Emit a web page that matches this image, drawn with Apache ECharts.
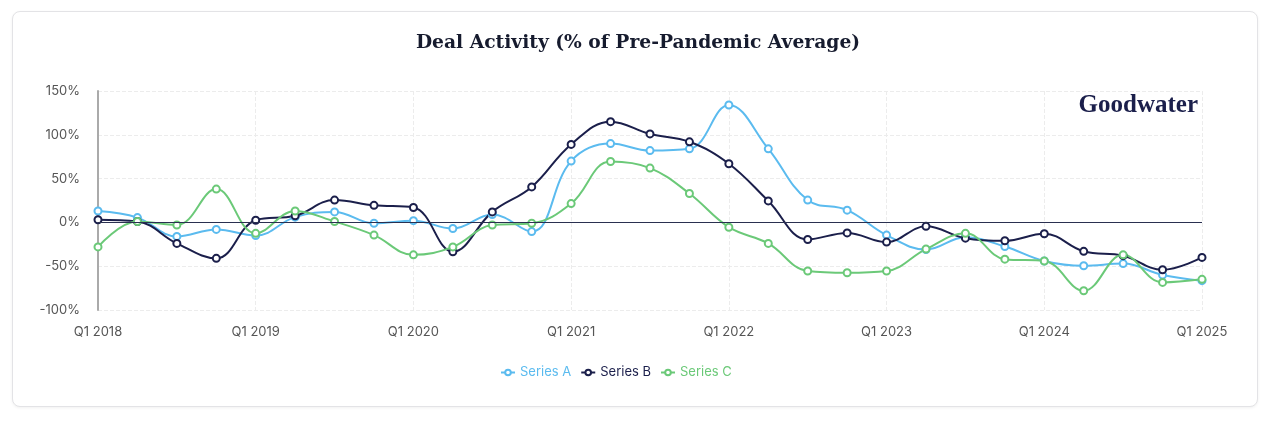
<!DOCTYPE html>
<html>
<head>
<meta charset="utf-8">
<script src="https://cdn.jsdelivr.net/npm/echarts@6/dist/echarts.min.js"></script>
<style>
html,body{margin:0;padding:0;background:#fff;}
#card{position:absolute;left:12px;top:11px;width:1244px;height:394px;border:1px solid #e3e3e6;border-radius:8px;box-shadow:0 1px 3px rgba(0,0,0,0.06);background:#fff;}
#chart{position:absolute;left:0;top:0;width:1276px;height:427px;}
</style>
</head>
<body>
<div id="card"></div>
<div id="chart"></div>
<script>
const categories = [
  'Q1 2018','Q2 2018','Q3 2018','Q4 2018',
  'Q1 2019','Q2 2019','Q3 2019','Q4 2019',
  'Q1 2020','Q2 2020','Q3 2020','Q4 2020',
  'Q1 2021','Q2 2021','Q3 2021','Q4 2021',
  'Q1 2022','Q2 2022','Q3 2022','Q4 2022',
  'Q1 2023','Q2 2023','Q3 2023','Q4 2023',
  'Q1 2024','Q2 2024','Q3 2024','Q4 2024',
  'Q1 2025'
];
const seriesA = [13, 5.5, -16, -8, -15, 6, 12, -1, 2, -7, 9, -10.5, 70, 90, 82, 84, 134, 84, 25.5, 14, -14.5, -31, -17, -27.5, -44, -49.5, -47, -60, -66.5];
const seriesB = [3, 1, -24, -41, 2.5, 7.5, 25.5, 19.5, 17, -33.5, 12, 40.5, 89, 115, 101, 92, 67, 24.5, -19.5, -12, -22.5, -4.5, -18, -21, -13, -33, -38, -54, -40];
const seriesC = [-28, 1, -3, 38, -12.5, 13, 1, -14.5, -37, -28, -3, -1, 21.5, 69.5, 62, 33, -5.5, -24, -55.5, -57.5, -55.5, -30.5, -12.5, -42, -44, -78, -37, -68.5, -65];
const yTicks = {min: -100, max: 150, interval: 50};

const colA = '#5bbbef', colB = '#1b1f4b', colC = '#6bc978';
const chart = echarts.init(document.getElementById('chart'));

function mk(name, data, color, extra) {
  return Object.assign({
    name: name, type: 'line', data: data, smooth: 0.4,
    symbol: 'emptyCircle', symbolSize: 7, showSymbol: true,
    lineStyle: {color: color, width: 2},
    itemStyle: {color: color, borderColor: color, borderWidth: 2},
    z: 3
  }, extra || {});
}

chart.setOption({
  animation: false,
  title: {
    text: 'Deal Activity (% of Pre-Pandemic Average)',
    left: 'center', top: 29,
    textStyle: {fontFamily: 'DejaVu Serif', fontWeight: 'bold', fontSize: 18.7, color: '#161b2e'}
  },
  graphic: [{
    type: 'text', right: 78, top: 93,
    style: {text: 'Goodwater', fontFamily: 'Liberation Serif', fontWeight: 'bold', fontSize: 25, fill: '#1b1f4b'}
  }],
  legend: {
    bottom: 43, left: 495, itemGap: 9, itemWidth: 14, itemHeight: 7,
    textStyle: {fontFamily: 'Inter', fontSize: 13},
    data: [
      {name: 'Series A', textStyle: {color: colA}},
      {name: 'Series B', textStyle: {color: colB}},
      {name: 'Series C', textStyle: {color: colC}}
    ]
  },
  grid: {left: 98, right: 74, top: 91, bottom: 117},
  xAxis: {
    type: 'category', data: categories, boundaryGap: false,
    axisLine: {show: false, onZero: false},
    axisTick: {show: false},
    axisLabel: {interval: 3, color: '#555', fontFamily: 'Inter', fontSize: 13, margin: 16},
    splitLine: {show: true, interval: 3, lineStyle: {color: '#ececec', type: 'dashed'}}
  },
  yAxis: {
    type: 'value', min: yTicks.min, max: yTicks.max, interval: yTicks.interval,
    axisLine: {show: true, lineStyle: {color: '#aaaaaa', width: 2}},
    axisTick: {show: false},
    axisLabel: {formatter: '{value}%', color: '#555', fontFamily: 'Inter', fontSize: 13, margin: 18},
    splitLine: {show: true, lineStyle: {color: '#ececec', type: 'dashed'}}
  },
  series: [
    mk('Series A', seriesA, colA, {
      markLine: {silent: true, symbol: 'none', label: {show: false},
        lineStyle: {color: '#2a3050', width: 1, type: 'solid'},
        data: [{yAxis: 0}]}
    }),
    mk('Series B', seriesB, colB),
    mk('Series C', seriesC, colC)
  ]
});
</script>
</body>
</html>
